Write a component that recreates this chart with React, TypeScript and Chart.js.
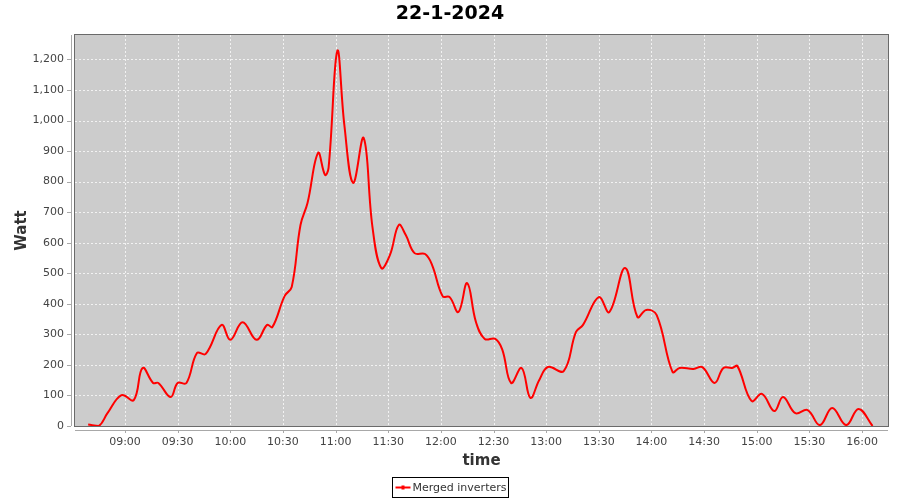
import React, { useEffect, useRef } from "react";
import { Chart, registerables } from "chart.js";

Chart.register(...registerables);

const TITLE = "22-1-2024";
const SERIES_NAME = "Merged inverters";
const X_TITLE = "time";
const Y_TITLE = "Watt";

const times: string[] = [
  "08:39", "08:45", "08:50", "08:58", "09:05", "09:10", "09:16", "09:19", "09:26", "09:30",
  "09:35", "09:41", "09:46", "09:55", "10:00", "10:07", "10:15", "10:21", "10:24", "10:31",
  "10:35", "10:40", "10:44", "10:50", "10:54", "10:56", "11:01", "11:05", "11:10", "11:16",
  "11:21", "11:26", "11:31", "11:36", "11:40", "11:45", "11:51", "11:55", "12:01", "12:05",
  "12:10", "12:15", "12:20", "12:25", "12:31", "12:35", "12:40", "12:46", "12:51", "12:56",
  "13:01", "13:10", "13:17", "13:21", "13:30", "13:36", "13:45", "13:52", "13:57", "14:03",
  "14:12", "14:16", "14:24", "14:29", "14:36", "14:41", "14:46", "14:49", "14:57", "15:03",
  "15:10", "15:15", "15:22", "15:29", "15:36", "15:43", "15:51", "15:58", "16:06",
];

const watts: number[] = [
  5, 0, 42, 101, 85, 190, 141, 141, 95, 141,
  141, 239, 236, 331, 282, 340, 282, 331, 324, 426,
  455, 658, 730, 894, 822, 845, 1228, 985, 796, 943,
  652, 517, 560, 658, 625, 566, 563, 527, 425, 422,
  373, 468, 340, 285, 285, 250, 141, 190, 92, 150,
  193, 180, 308, 331, 422, 373, 517, 357, 380, 363,
  177, 190, 187, 193, 141, 190, 190, 196, 82, 105,
  49, 95, 42, 52, 3, 59, 3, 56, 0,
];

const xTickLabels: string[] = [
  "09:00", "09:30", "10:00", "10:30", "11:00", "11:30", "12:00", "12:30",
  "13:00", "13:30", "14:00", "14:30", "15:00", "15:30", "16:00",
];

const yTickValues: number[] = [0, 100, 200, 300, 400, 500, 600, 700, 800, 900, 1000, 1100, 1200];

const X_MIN = "08:31:30";
const X_MAX = "16:14:48";
const Y_MAX = 1280;

const toMin = (t: string): number => {
  const p = t.split(":").map(Number);
  return p[0] * 60 + p[1] + (p[2] || 0) / 60;
};
const fmt = (m: number): string => {
  const h = Math.floor(m / 60);
  const mm = Math.round(m - h * 60);
  return String(h).padStart(2, "0") + ":" + String(mm).padStart(2, "0");
};

const FONT = "'DejaVu Sans', sans-serif";

export default function App() {
  const ref = useRef<HTMLCanvasElement | null>(null);

  useEffect(() => {
    document.body.style.margin = "0";
    const canvas = ref.current;
    if (!canvas) return;

    const decorPlugin = {
      id: "decor",
      beforeDraw(chart: any) {
        const { ctx, chartArea: a } = chart;
        const xs = chart.scales.x;
        const ys = chart.scales.y;
        ctx.save();
        ctx.fillStyle = "#ffffff";
        ctx.fillRect(0, 0, chart.width, chart.height);
        ctx.fillStyle = "#cccccc";
        ctx.fillRect(a.left, a.top, a.right - a.left, a.bottom - a.top);
        // dashed grid
        ctx.strokeStyle = "#f2f2f2";
        ctx.lineWidth = 1;
        ctx.setLineDash([2, 2]);
        ctx.beginPath();
        yTickValues.forEach((v) => {
          const py = Math.round(ys.getPixelForValue(v)) + 0.5;
          ctx.moveTo(a.left, py);
          ctx.lineTo(a.right, py);
        });
        xTickLabels.forEach((t) => {
          const px = Math.round(xs.getPixelForValue(toMin(t))) + 0.5;
          ctx.moveTo(px, a.top);
          ctx.lineTo(px, a.bottom);
        });
        ctx.stroke();
        ctx.restore();
      },
      afterDatasetsDraw(chart: any) {
        const { ctx, chartArea: a } = chart;
        const xs = chart.scales.x;
        const ys = chart.scales.y;
        ctx.save();
        // plot outline
        ctx.strokeStyle = "#6a6a6a";
        ctx.lineWidth = 1;
        ctx.strokeRect(Math.round(a.left) - 0.5, Math.round(a.top) - 0.5, Math.round(a.right - a.left) + 1, Math.round(a.bottom - a.top) + 1);
        // axis lines (offset)
        ctx.strokeStyle = "#a8a8a8";
        ctx.beginPath();
        ctx.moveTo(Math.round(a.left) - 3.5, a.top);
        ctx.lineTo(Math.round(a.left) - 3.5, a.bottom);
        ctx.moveTo(a.left, Math.round(a.bottom) + 4.5);
        ctx.lineTo(a.right, Math.round(a.bottom) + 4.5);
        ctx.stroke();
        // tick marks
        ctx.beginPath();
        yTickValues.forEach((v) => {
          const py = Math.round(ys.getPixelForValue(v)) + 0.5;
          ctx.moveTo(Math.round(a.left) - 4, py);
          ctx.lineTo(Math.round(a.left) - 8, py);
        });
        xTickLabels.forEach((t) => {
          const px = Math.round(xs.getPixelForValue(toMin(t))) + 0.5;
          ctx.moveTo(px, Math.round(a.bottom) + 5);
          ctx.lineTo(px, Math.round(a.bottom) + 7);
        });
        ctx.stroke();
        // title
        ctx.fillStyle = "#000000";
        ctx.font = "bold 19px " + FONT;
        ctx.textAlign = "center";
        ctx.textBaseline = "middle";
        ctx.fillText(TITLE, chart.width / 2, 14);
        // legend
        ctx.font = "11px " + FONT;
        const tw = ctx.measureText(SERIES_NAME).width;
        const boxW = Math.round(tw + 22);
        const bx = Math.round(chart.width / 2 - boxW / 2) + 0.5;
        const by = 477.5;
        ctx.strokeStyle = "#000000";
        ctx.lineWidth = 1;
        ctx.strokeRect(bx, by, boxW, 20);
        ctx.strokeStyle = "#ff0000";
        ctx.lineWidth = 2;
        ctx.beginPath();
        ctx.moveTo(bx + 3, by + 10);
        ctx.lineTo(bx + 18, by + 10);
        ctx.stroke();
        ctx.fillStyle = "#ff0000";
        ctx.fillRect(bx + 9, by + 8, 3, 4);
        ctx.fillStyle = "#333333";
        ctx.textAlign = "left";
        ctx.fillText(SERIES_NAME, bx + 20, by + 10.5);
        ctx.restore();
      },
    };

    const chart = new Chart(canvas, {
      type: "line",
      data: {
        datasets: [
          {
            label: SERIES_NAME,
            data: times.map((t, i) => ({ x: toMin(t), y: watts[i] })),
            borderColor: "#ff0000",
            borderWidth: 2,
            pointRadius: 0,
            tension: 0.4,
            fill: false,
          },
        ],
      },
      options: {
        animation: false,
        responsive: false,
        maintainAspectRatio: false,
        devicePixelRatio: 1,
        layout: { padding: { top: 35, right: 12, bottom: 30, left: 0 } },
        plugins: {
          legend: { display: false },
          title: { display: false },
          tooltip: { enabled: false },
        },
        scales: {
          x: {
            type: "linear",
            min: toMin(X_MIN),
            max: toMin(X_MAX),
            afterBuildTicks: (s: any) => {
              s.ticks = xTickLabels.map((t) => ({ value: toMin(t) }));
            },
            afterFit: (s: any) => {
              s.height = 44;
            },
            ticks: {
              autoSkip: false,
              maxRotation: 0,
              padding: 10,
              color: "#444444",
              font: { family: FONT, size: 11 },
              callback: (v: any) => fmt(Number(v)),
            },
            grid: { display: false, drawTicks: false },
            border: { display: false },
            title: {
              display: true,
              text: X_TITLE,
              color: "#333333",
              font: { family: FONT, size: 15, weight: "bold" },
              padding: { top: 2, bottom: 0 },
            },
          },
          y: {
            type: "linear",
            min: 0,
            max: Y_MAX,
            afterBuildTicks: (s: any) => {
              s.ticks = yTickValues.map((v) => ({ value: v }));
            },
            afterFit: (s: any) => {
              s.width = 75;
            },
            ticks: {
              padding: 11,
              color: "#444444",
              font: { family: FONT, size: 11 },
              callback: (v: any) => Number(v).toLocaleString("en-US"),
            },
            grid: { display: false, drawTicks: false },
            border: { display: false },
            title: {
              display: true,
              text: Y_TITLE,
              color: "#333333",
              font: { family: FONT, size: 15, weight: "bold" },
              padding: { top: 13, bottom: 4 },
            },
          },
        },
      },
      plugins: [decorPlugin],
    } as any);

    return () => chart.destroy();
  }, []);

  return (
    <div style={{ width: 900, height: 500 }}>
      <canvas ref={ref} width={900} height={500} style={{ display: "block" }} />
    </div>
  );
}
